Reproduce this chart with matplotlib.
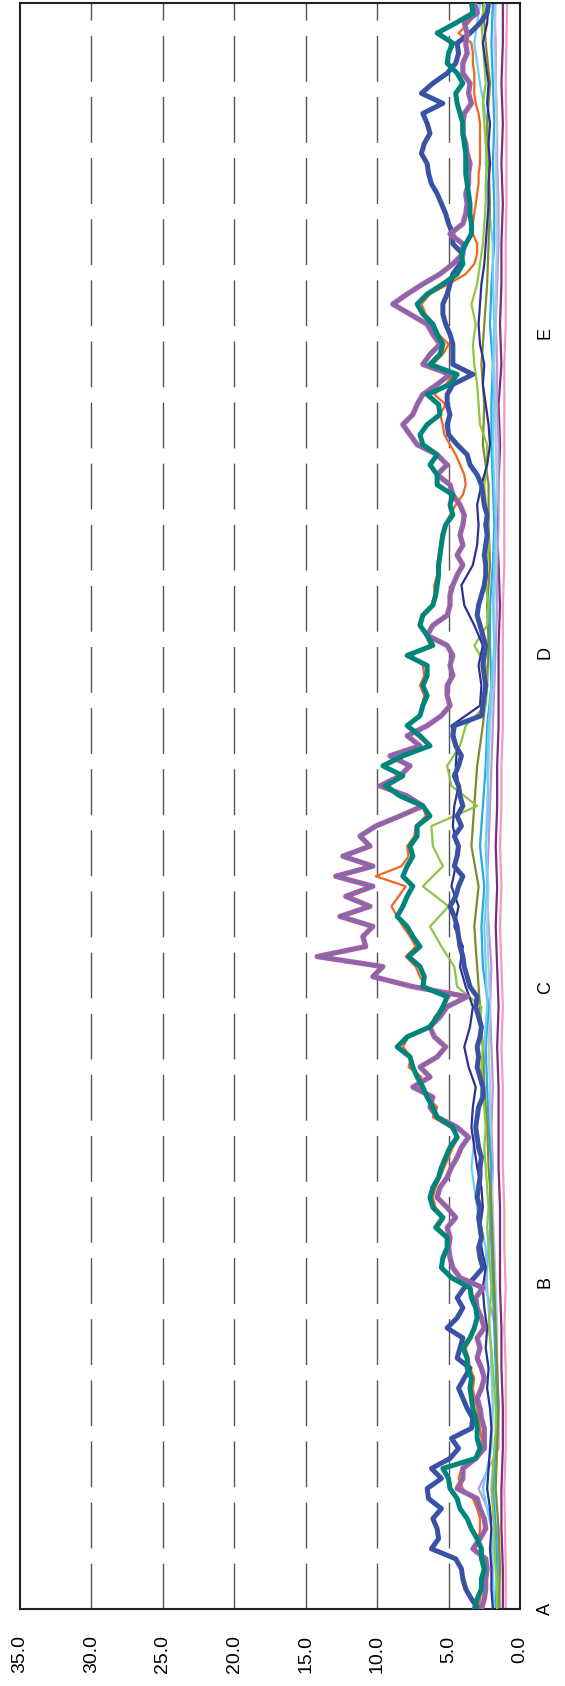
import numpy as np
import matplotlib
matplotlib.use('Agg')
import matplotlib.pyplot as plt

plt.rcParams['font.family'] = ['Liberation Sans', 'DejaVu Sans']

# DATA
#*************
# time axis: one step per row of the chart, categories sit at these positions
t_fine = np.arange(0, 161)
t_mid = np.arange(0, 161, 2)
t_coarse = np.arange(0, 161, 4)
cat_labels = ['A', 'B', 'C', 'D', 'E']
cat_pos = [0, 32.6, 61.9, 95.3, 127.1]
value_ticks = [0, 5, 10, 15, 20, 25, 30, 35]

blue = [2.9, 3.4, 3.8, 4.0, 4.1, 4.5, 6.2, 5.7, 5.8, 6.1, 5.5, 6.4, 6.5, 5.5, 6.2, 4.9, 4.3,
        4.8, 3.4, 3.3, 3.7, 4.0, 4.3, 3.9, 3.5, 4.4, 4.2, 4.0, 5.1, 4.4, 4.0, 4.4, 3.9, 3.2, 2.6, 2.8, 2.9, 2.7, 2.8, 2.9, 2.8,
        3.0, 2.9, 2.8, 2.8, 2.7, 2.9, 3.0, 3.1, 3.0, 2.9, 2.6, 2.6, 2.8, 3.0, 2.9, 3.0, 2.8, 2.7, 2.9, 3.1, 3.0, 3.5, 3.7, 3.9,
        4.0, 4.2, 4.3, 4.4, 4.6, 4.9, 4.5, 4.3, 4.0, 4.6, 4.4, 4.3, 4.6, 4.1, 4.4, 4.0, 4.2, 4.3, 4.6, 4.3, 4.1, 4.5, 4.7, 4.6,
        2.7, 2.6, 2.5, 2.4, 2.5, 2.6, 2.5, 2.4, 2.6, 2.8, 3.0, 2.9, 2.7, 2.5, 2.4, 2.4, 2.5, 2.4, 2.3, 2.4, 2.3, 2.5, 2.6, 2.7,
        3.0, 3.5, 3.7, 4.4, 5.0, 5.1, 4.9, 5.1, 5.1, 4.7, 3.3, 4.7, 4.7, 4.7, 4.9, 5.2, 5.4, 5.4, 5.1, 4.9, 4.7, 4.2, 4.0, 4.7,
        4.7, 5.0, 5.2, 5.5, 5.8, 6.2, 6.4, 6.5, 6.9, 6.7, 6.3, 6.5, 6.8, 5.4, 6.9, 6.1, 5.1, 4.5, 4.3, 4.4, 3.5, 2.8, 2.3, 2.2]

teal = [3.2, 3.0, 2.7, 2.7, 2.5, 2.7, 2.7, 3.0, 3.4, 3.7, 4.2, 4.4, 4.9, 5.0, 5.4, 3.1, 2.8,
        3.0, 3.0, 3.1, 3.3, 3.4, 3.5, 3.4, 3.7, 3.7, 4.0, 3.5, 3.2, 3.0, 3.1, 3.4, 3.5, 4.8, 5.5, 5.4, 5.1, 5.1, 5.9, 5.4, 6.1,
        6.3, 6.1, 5.7, 5.5, 5.2, 4.9, 4.4, 4.7, 5.8, 6.1, 6.5, 6.8, 7.2, 7.5, 7.7, 8.6, 7.9, 6.3, 5.8, 5.4, 5.1, 6.8, 6.7, 7.0,
        7.8, 7.0, 7.5, 7.9, 8.6, 8.2, 7.9, 7.5, 8.2, 7.9, 7.5, 7.7, 7.2, 7.2, 6.3, 6.8, 8.4, 9.4, 8.2, 9.6, 8.2, 6.3, 7.0, 7.9,
        7.0, 6.8, 6.5, 6.8, 6.5, 6.5, 7.9, 6.1, 6.5, 7.0, 6.8, 6.1, 5.9, 5.8, 5.7, 5.7, 5.6, 5.5, 5.4, 5.2, 4.7, 4.9, 4.7, 5.8,
        5.8, 6.3, 5.8, 6.8, 7.0, 6.5, 5.6, 5.7, 6.5, 4.9, 4.4, 6.3, 5.6, 5.4, 5.8, 6.1, 6.8, 7.2, 6.5, 5.4, 4.4, 4.0, 4.1, 3.8,
        3.4, 3.4, 3.5, 3.5, 3.6, 3.7, 3.8, 3.8, 3.8, 3.9, 4.0, 4.0, 4.2, 4.4, 4.5, 4.0, 4.4, 5.1, 5.0, 4.7, 5.8, 4.5, 3.3, 3.4]

purple = [2.7, 2.5, 2.4, 2.4, 2.3, 2.4, 3.3, 2.8, 2.4, 2.5, 2.8, 3.0, 4.4, 4.0, 4.0, 3.1, 2.5,
          2.5, 2.5, 2.7, 2.8, 3.0, 2.7, 2.5, 2.7, 3.0, 2.8, 3.0, 2.5, 2.7, 3.0, 3.1, 2.6, 4.2, 4.7, 4.9, 5.0, 4.9, 5.1, 4.5, 5.1,
          5.8, 5.6, 5.1, 4.8, 4.4, 4.1, 3.6, 4.4, 5.8, 6.3, 6.1, 7.5, 6.3, 7.0, 5.8, 5.2, 6.0, 6.3, 5.6, 5.1, 3.7, 7.5, 10.3, 9.6,
          14.2, 10.8, 11.0, 10.3, 12.6, 10.5, 12.2, 10.3, 12.9, 10.3, 12.4, 10.5, 11.2, 10.1, 8.4, 6.8, 7.9, 9.8, 8.4, 7.7, 9.1, 7.0, 7.9, 6.5,
          5.5, 4.9, 5.1, 5.1, 4.7, 4.9, 4.7, 5.1, 6.5, 6.1, 5.1, 4.9, 4.9, 4.7, 4.4, 4.0, 4.4, 4.0, 4.2, 4.0, 3.9, 4.2, 4.7, 4.9,
          5.8, 5.1, 5.8, 7.2, 7.7, 8.2, 7.5, 7.2, 6.8, 5.8, 4.9, 6.8, 6.3, 5.6, 6.1, 6.5, 7.7, 8.9, 7.9, 6.8, 5.6, 4.7, 4.0, 4.0,
          4.9, 4.0, 3.8, 3.7, 3.8, 3.6, 3.6, 3.5, 3.7, 3.8, 4.0, 4.0, 3.9, 3.4, 3.6, 3.5, 4.0, 4.0, 3.7, 3.8, 3.7, 3.9, 3.0, 3.2]

orange = [2.9, 2.8, 2.7, 2.6, 2.6, 2.7, 3.1, 2.9, 2.8, 2.8, 3.0, 3.3, 4.0, 4.3, 4.1, 3.0, 2.7,
          2.7, 2.8, 2.9, 3.0, 3.2, 3.3, 3.2, 3.5, 3.6, 3.8, 3.4, 3.1, 3.0, 3.0, 3.3, 3.4, 4.6, 5.6, 5.3, 5.0, 5.0, 5.7, 5.3, 5.9,
          6.1, 5.9, 5.6, 5.3, 5.0, 4.7, 4.3, 4.9, 6.1, 5.8, 6.5, 7.0, 6.9, 7.8, 7.6, 8.2, 7.8, 6.2, 6.0, 5.3, 5.0, 6.6, 7.0, 7.3,
          8.0, 7.3, 7.7, 8.2, 8.6, 9.0, 8.5, 8.0, 10.1, 8.3, 7.8, 7.9, 7.4, 7.3, 6.6, 6.8, 8.2, 9.2, 8.4, 9.4, 8.0, 6.4, 7.2, 7.9,
          7.0, 6.9, 6.7, 7.0, 6.7, 6.8, 7.6, 6.3, 6.6, 7.1, 6.9, 6.2, 6.0, 6.0, 5.8, 5.8, 5.7, 5.6, 5.5, 5.3, 4.9, 4.5, 4.0, 3.8,
          3.9, 4.2, 4.5, 4.9, 5.3, 5.4, 5.6, 5.2, 6.0, 5.2, 4.6, 6.1, 5.4, 5.0, 5.7, 6.0, 6.6, 6.9, 6.3, 5.0, 3.8, 3.2, 3.0, 3.0,
          3.3, 3.3, 3.2, 3.1, 3.0, 2.9, 2.9, 2.8, 2.8, 2.8, 2.8, 2.8, 2.9, 3.1, 3.2, 3.2, 3.2, 3.3, 3.3, 3.4, 4.3, 3.6, 3.1, 3.2]

green = [1.6, 1.6, 1.7, 1.8, 1.8, 1.9, 2.0, 1.9,
         1.8, 1.7, 1.7, 1.8, 1.9, 2.0, 2.2, 2.1,
         2.0, 2.1, 2.2, 2.3, 2.2, 2.3, 2.4, 2.5,
         2.4, 2.5, 2.6, 2.7, 2.6, 2.8, 2.7, 4.4,
         4.6, 5.5, 6.3, 5.0, 6.8, 5.4, 6.1, 6.2,
         3.0, 4.8, 5.1, 4.2, 3.8, 2.4, 2.3, 2.4,
         3.2, 2.3, 2.2, 2.4, 2.3, 2.2, 2.3, 2.4,
         2.5, 2.3, 2.3, 2.8, 2.9, 3.0, 3.2, 3.3,
         3.1, 3.4, 3.0, 2.8, 2.6, 2.5, 2.4, 2.4,
         2.3, 2.4, 2.5, 2.6, 2.4, 2.5, 2.6, 2.7, 2.5]

navy = [1.9, 2.0, 2.0, 2.1, 2.0, 2.1, 2.3, 2.2,
        2.1, 2.0, 2.1, 2.3, 2.2, 2.4, 2.3, 2.5,
        2.6, 2.4, 2.7, 2.8, 2.6, 2.7, 3.0, 3.2,
        3.4, 3.3, 3.1, 3.6, 3.9, 3.5, 3.3, 3.8,
        4.2, 4.0, 4.6, 4.3, 4.8, 4.5, 4.4, 4.7,
        4.6, 4.3, 4.5, 4.4, 4.8, 2.8, 2.7, 2.9,
        2.6, 3.2, 3.9, 4.1, 3.3, 3.0, 2.9, 3.0,
        2.7, 2.3, 2.1, 2.2, 2.4, 2.6, 2.5, 2.8,
        2.9, 2.8, 2.7, 2.5, 2.4, 2.3, 2.2, 2.2,
        2.1, 2.2, 2.1, 2.3, 2.2, 2.4, 2.6, 2.3, 2.2]

olive = [1.5, 1.4, 1.5, 1.7, 1.6, 1.5, 1.6, 1.7, 1.8, 1.9, 2.0, 2.2, 2.3, 2.5, 2.6, 2.8, 3.0, 3.2, 2.9, 3.4, 3.2,
         3.0, 2.6, 2.3, 2.2, 2.3, 2.1, 2.2, 2.2, 2.6, 2.5, 2.7, 2.5, 2.3, 2.2, 2.1, 2.2, 2.3, 2.1, 2.4, 2.6]
cyan = [1.7, 1.6, 1.7, 1.9, 1.7, 1.6, 1.7, 1.8, 1.9, 2.0, 2.1, 2.0, 2.2, 2.3, 2.4, 2.2, 2.6, 2.7, 2.5, 2.8, 2.6,
        2.4, 2.3, 2.0, 2.1, 2.1, 1.9, 1.8, 1.9, 2.0, 2.0, 1.9, 2.1, 2.0, 1.8, 1.8, 1.9, 1.8, 1.9, 2.0, 1.9]
light_cyan = [1.8, 1.9, 2.0, 2.6, 2.0, 1.9, 2.0, 2.1, 2.3, 2.4, 3.0, 3.4, 3.1, 2.6, 2.5, 2.3, 2.4, 2.5, 2.3, 2.4, 2.2,
              2.3, 2.2, 2.0, 1.8, 1.9, 1.8, 1.7, 1.8, 1.9, 1.8, 1.9, 1.8, 1.9, 1.9, 2.2, 2.4, 2.3, 2.8, 3.2, 2.8]
light_blue = [1.5, 1.6, 1.7, 1.8, 1.6, 1.5, 1.6, 1.6, 1.7, 1.8, 1.9, 2.0, 2.1, 2.1, 2.2, 2.1, 2.2, 2.3, 2.2, 2.4, 2.3,
              2.2, 2.1, 1.9, 1.8, 1.8, 1.7, 1.7, 1.6, 1.7, 1.7, 1.8, 1.7, 1.7, 1.6, 1.6, 1.7, 1.6, 1.7, 1.8, 1.7]
lavender = [1.4, 1.5, 1.6, 2.9, 1.5, 1.5, 1.6, 1.7, 2.4, 2.2, 2.0, 1.9, 2.0, 1.9, 2.0, 2.1, 2.0, 2.2, 2.3, 2.2, 2.1,
            2.0, 1.9, 1.8, 1.7, 1.6, 1.6, 1.5, 1.5, 1.5, 1.6, 1.6, 1.7, 1.6, 1.5, 1.5, 1.6, 1.6, 1.7, 1.7, 1.8]
dark_purple = [1.2, 1.2, 1.3, 1.3, 1.2, 1.2, 1.3, 1.3, 1.4, 1.4, 1.4, 1.5, 1.5, 1.5, 1.6, 1.5, 1.6, 1.7, 1.6, 1.7, 1.6,
               1.6, 1.5, 1.5, 1.5, 1.4, 1.5, 1.6, 1.5, 1.4, 1.5, 1.3, 1.4, 1.3, 1.3, 1.2, 1.3, 1.2, 1.3, 1.2, 1.2]
pink = [1.0, 1.0, 1.05, 1.1, 1.0, 1.0, 1.0, 1.1, 1.0, 1.1, 1.1, 1.2, 1.2, 1.2, 1.3, 1.2, 1.3, 1.4, 1.3, 1.4, 1.3,
        1.3, 1.2, 1.2, 1.2, 1.2, 1.1, 1.1, 1.1, 1.1, 1.1, 1.1, 1.0, 1.0, 1.0, 0.95, 0.95, 0.95, 1.0, 0.95, 0.9]

# PLOT
#*************
fig = plt.figure(figsize=(5.65, 16.86), dpi=100)
ax = fig.add_axes([20/565, 77/1686, 500/565, 1606/1686])

for v in value_ticks[1:-1]:
    ax.axvline(v, color='#555555', lw=1.0, dashes=(33, 11), zorder=1)

thin = [(pink, '#F49AC1'), (dark_purple, '#7B2C80'), (lavender, '#B39DD3'), (light_blue, '#A9CBE6'),
        (cyan, '#27AAE1'), (light_cyan, '#6DCFF6'), (olive, '#808B2D')]
for vals, col in thin:
    ax.plot(vals, t_coarse, color=col, lw=1.6, zorder=2)

ax.plot(green, t_mid, color='#8DC63F', lw=1.6, zorder=3)
ax.plot(navy, t_mid, color='#2E3192', lw=1.6, zorder=3)
ax.plot(orange, t_fine, color='#F26522', lw=1.6, zorder=3)
ax.plot(blue, t_fine, color='#3953A4', lw=3.6, zorder=4)
ax.plot(purple, t_fine, color='#B05AA8', lw=3.8, zorder=4)
ax.plot(purple, t_fine, color='#7272A8', lw=1.4, zorder=4)
ax.plot(teal, t_fine, color='#00857C', lw=3.6, zorder=5)

ax.set_xlim(35, 0)
ax.set_ylim(0, 160)

ax.set_xticks(value_ticks)
ax.set_xticklabels(['%.1f' % v for v in value_ticks], rotation=90)
ax.tick_params(axis='x', length=0, pad=19, labelsize=14)

ax.yaxis.tick_right()
ax.set_yticks(cat_pos)
ax.set_yticklabels(cat_labels, rotation=90, va='center')
ax.tick_params(axis='y', length=0, pad=12, labelsize=13)

for s in ax.spines.values():
    s.set_linewidth(1.5)
    s.set_color('#222222')

fig.savefig('out.png', dpi=100)
